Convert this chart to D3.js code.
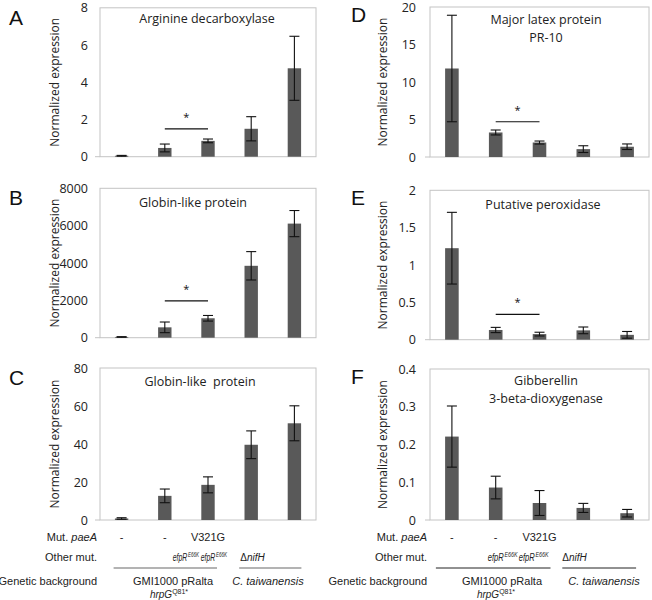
<!DOCTYPE html>
<html>
<head>
<meta charset="utf-8">
<script src="https://cdn.jsdelivr.net/npm/d3@7"></script>
<style>
  body { margin: 0; background: #fff; }
  svg { display: block; }
</style>
</head>
<body>
<svg width="652" height="600"></svg>
<script>
const svg = d3.select('svg');

// strains, left to right
const strains = ['GMI1000 hrpG', 'efpR E66K', 'efpR E66K paeA V321G', 'C. taiwanensis nifH', 'C. taiwanensis'];

// A  Arginine decarboxylase
const argMean = [0.05, 0.47, 0.85, 1.5, 4.75];
const argErr  = [0.02, 0.21, 0.1, 0.65, 1.72];
// B  Globin-like protein
const glbMean = [40, 555, 1040, 3850, 6110];
const glbErr  = [15, 285, 150, 760, 700];
// C  Globin-like protein
const glb2Mean = [0.8, 12.7, 18.5, 39.6, 50.9];
const glb2Err  = [0.4, 3.6, 4.2, 7.3, 9.2];
// D  Major latex protein PR-10
const mlpMean = [11.8, 3.27, 1.93, 1.05, 1.37];
const mlpErr  = [7.1, 0.33, 0.2, 0.45, 0.37];
// E  Putative peroxidase
const perMean = [1.225, 0.13, 0.075, 0.125, 0.065];
const perErr  = [0.48, 0.035, 0.025, 0.045, 0.045];
// F  Gibberellin 3-beta-dioxygenase
const gibMean = [0.221, 0.086, 0.045, 0.032, 0.018];
const gibErr  = [0.081, 0.03, 0.033, 0.012, 0.01];

const ticksA = [0, 2, 4, 6, 8];
const ticksB = [0, 2000, 4000, 6000, 8000];
const ticksC = [0, 20, 40, 60, 80];
const ticksD = [0, 5, 10, 15, 20];
const ticksE = [0, 0.5, 1, 1.5, 2];
const ticksF = [0, 0.1, 0.2, 0.3, 0.4];

const paeA = ['-', '-', 'V321G', '', ''];

const panels = [
  {letter: 'A', title: ['Arginine decarboxylase'], mean: argMean, err: argErr, ticks: ticksA, sig: 1.5,
   x0: 100, x1: 316, top: 7.8, bottom: 156.7, col: 0, tx: 207, ty: 15},
  {letter: 'B', title: ['Globin-like protein'], mean: glbMean, err: glbErr, ticks: ticksB, sig: 1970,
   x0: 100, x1: 316, top: 188.3, bottom: 337.7, col: 0, tx: 193, ty: 18.5},
  {letter: 'C', title: ['Globin-like  protein'], mean: glb2Mean, err: glb2Err, ticks: ticksC, sig: null,
   x0: 100, x1: 316, top: 368, bottom: 520, col: 0, tx: 200, ty: 18},
  {letter: 'D', title: ['Major latex protein', 'PR-10'], mean: mlpMean, err: mlpErr, ticks: ticksD, sig: 4.7,
   x0: 430, x1: 649, top: 7, bottom: 157, col: 1, tx: 546, ty: 17},
  {letter: 'E', title: ['Putative peroxidase'], mean: perMean, err: perErr, ticks: ticksE, sig: 0.34,
   x0: 430, x1: 649, top: 190.3, bottom: 339.7, col: 1, tx: 543, ty: 19},
  {letter: 'F', title: ['Gibberellin', '3-beta-dioxygenase'], mean: gibMean, err: gibErr, ticks: ticksF, sig: null,
   x0: 430, x1: 649, top: 369, bottom: 520, col: 1, tx: 546, ty: 15.5}
];

const calib = '"Open Sans", "Noto Sans", sans-serif';
const arial = '"Liberation Sans", Arial, sans-serif';
const narrow = '"Liberation Sans Narrow", "Arial Narrow", "Liberation Sans", sans-serif';

panels.forEach(p => {
  const x = d3.scaleBand()
    .domain(d3.range(strains.length))
    .range([p.x0, p.x1])
    .paddingInner(0.69)
    .paddingOuter(0.345);
  const y = d3.scaleLinear()
    .domain([0, d3.max(p.ticks)])
    .range([p.bottom, p.top]);
  p.x = x;

  const g = svg.append('g');

  // frame
  g.append('rect')
    .attr('x', p.x0).attr('y', p.top)
    .attr('width', p.x1 - p.x0).attr('height', p.bottom - p.top)
    .attr('fill', 'none').attr('stroke', '#c4c4c4').attr('stroke-width', 1);
  g.append('line')
    .attr('x1', p.x0 - 5).attr('x2', p.x0)
    .attr('y1', p.bottom).attr('y2', p.bottom)
    .attr('stroke', '#c4c4c4');

  // y axis
  const ax = g.append('g')
    .attr('transform', `translate(${p.x0},0)`)
    .call(d3.axisLeft(y).tickValues(p.ticks).tickFormat(d => String(d))
      .tickSize(0).tickPadding(p.col ? 14 : 12));
  ax.select('.domain').remove();
  ax.selectAll('text')
    .attr('font-family', calib).attr('font-size', 12.5).attr('fill', '#222');

  g.append('text')
    .attr('transform', `translate(${p.col ? 383 : 55},${(p.top + p.bottom) / 2}) rotate(-90)`)
    .attr('text-anchor', 'middle')
    .attr('dy', '0.35em')
    .attr('font-family', calib).attr('font-size', 12).attr('fill', '#222')
    .text('Normalized expression');

  // bars
  g.selectAll('rect.bar').data(p.mean)
    .enter().append('rect')
    .attr('class', 'bar')
    .attr('x', (d, i) => x(i))
    .attr('y', d => y(d))
    .attr('width', x.bandwidth())
    .attr('height', d => y(0) - y(d))
    .attr('fill', '#595959');

  // error bars
  const eb = g.selectAll('g.err').data(p.mean)
    .enter().append('g').attr('class', 'err')
    .attr('stroke', '#111').attr('stroke-width', 1.1);
  const cx = i => x(i) + x.bandwidth() / 2;
  const hi = (d, i) => y(d + p.err[i]);
  const lo = (d, i) => y(Math.max(0, d - p.err[i]));
  eb.append('line')
    .attr('x1', (d, i) => cx(i)).attr('x2', (d, i) => cx(i))
    .attr('y1', hi).attr('y2', lo);
  eb.append('line')
    .attr('x1', (d, i) => cx(i) - 5).attr('x2', (d, i) => cx(i) + 5)
    .attr('y1', hi).attr('y2', hi);
  eb.append('line')
    .attr('x1', (d, i) => cx(i) - 5).attr('x2', (d, i) => cx(i) + 5)
    .attr('y1', lo).attr('y2', lo);

  // significance
  if (p.sig !== null) {
    g.append('line')
      .attr('x1', cx(1)).attr('x2', cx(2))
      .attr('y1', y(p.sig)).attr('y2', y(p.sig))
      .attr('stroke', '#111').attr('stroke-width', 1.2);
    g.append('text')
      .attr('x', (cx(1) + cx(2)) / 2).attr('y', y(p.sig) - 8)
      .attr('text-anchor', 'middle')
      .attr('font-family', calib).attr('font-size', 11).attr('fill', '#111')
      .text('*');
  }

  // title
  p.title.forEach((t, k) => {
    g.append('text')
      .attr('x', p.tx).attr('y', p.top + p.ty + k * 18)
      .attr('text-anchor', 'middle')
      .attr('font-family', calib).attr('font-size', 12.5).attr('fill', '#222')
      .style('white-space', 'pre')
      .text(t);
  });

  // letter
  svg.append('text')
    .attr('x', p.col ? 351 : 9).attr('y', p.top + (p.col ? 15 : 17))
    .attr('font-family', arial).attr('font-size', 21).attr('fill', '#111')
    .text(p.letter);
});

// strain descriptions under the bottom panels
[panels[2], panels[5]].forEach(p => {
  const x = p.x;
  const cx = i => x(i) + x.bandwidth() / 2;
  const left = p.col === 0;
  const g = svg.append('g')
    .attr('font-family', arial).attr('font-size', 11).attr('fill', '#222');
  const lx = p.x0 - 3;

  const r1 = g.append('text').attr('x', lx).attr('y', 541).attr('text-anchor', 'end');
  r1.append('tspan').text('Mut. ');
  r1.append('tspan').attr('font-style', 'italic').text('paeA');
  g.append('text').attr('x', lx).attr('y', 561).attr('text-anchor', 'end').text('Other mut.');
  g.append('text').attr('x', lx).attr('y', 585).attr('text-anchor', 'end').text('Genetic background');

  g.selectAll('text.pae').data(paeA).enter().append('text')
    .attr('class', 'pae')
    .attr('x', (d, i) => cx(i)).attr('y', 541)
    .attr('text-anchor', 'middle')
    .text(d => d);

  // efpR labels, narrow as in the figure (base and superscript)
  const efStart = left ? [cx(1) + 8, cx(1) + 36] : [cx(1) - 8, cx(1) + 23];
  const baseW = left ? 14.5 : 16;
  const supW = left ? 11 : 13;
  efStart.forEach(sx => {
    g.append('text')
      .attr('x', sx).attr('y', 561)
      .attr('font-family', narrow)
      .attr('font-style', 'italic').attr('font-size', 10.5)
      .attr('textLength', baseW)
      .attr('lengthAdjust', 'spacingAndGlyphs')
      .text('efpR');
    g.append('text')
      .attr('x', sx + baseW + 0.8).attr('y', 556.5)
      .attr('font-family', narrow)
      .attr('font-style', 'italic').attr('font-size', 7)
      .attr('textLength', supW)
      .attr('lengthAdjust', 'spacingAndGlyphs')
      .text('E66K');
  });

  const nif = g.append('text')
    .attr('x', left ? cx(3) - 11 : cx(3) - 21).attr('y', 561).attr('font-size', 10);
  nif.append('tspan').text('Δ');
  nif.append('tspan').attr('font-style', 'italic').text('nifH');

  // group lines
  const lineCol = left ? '#9a9a9a' : '#222';
  const lw = left ? 1.6 : 1;
  g.append('line')
    .attr('x1', left ? cx(0) - 8 : cx(0) - 16).attr('x2', left ? cx(2) + 9 : cx(2) + 11)
    .attr('y1', 568).attr('y2', 568)
    .attr('stroke', lineCol).attr('stroke-width', lw);
  g.append('line')
    .attr('x1', left ? cx(3) - 12 : cx(3) - 21).attr('x2', left ? cx(4) + 7 : cx(4) + 9)
    .attr('y1', 568).attr('y2', 568)
    .attr('stroke', lineCol).attr('stroke-width', lw);

  g.append('text')
    .attr('x', left ? 173 : 502).attr('y', 585)
    .attr('text-anchor', 'middle')
    .text('GMI1000 pRalta');
  const hr = g.append('text')
    .attr('x', left ? 169 : 496).attr('y', 598)
    .attr('text-anchor', 'middle').attr('font-size', 10);
  hr.append('tspan').attr('font-style', 'italic').text('hrpG');
  hr.append('tspan').attr('font-size', 7).attr('dy', -4).text('Q81*');
  g.append('text')
    .attr('x', left ? 268 : 604).attr('y', 585)
    .attr('text-anchor', 'middle').attr('font-style', 'italic')
    .text('C. taiwanensis');
});
</script>
</body>
</html>
